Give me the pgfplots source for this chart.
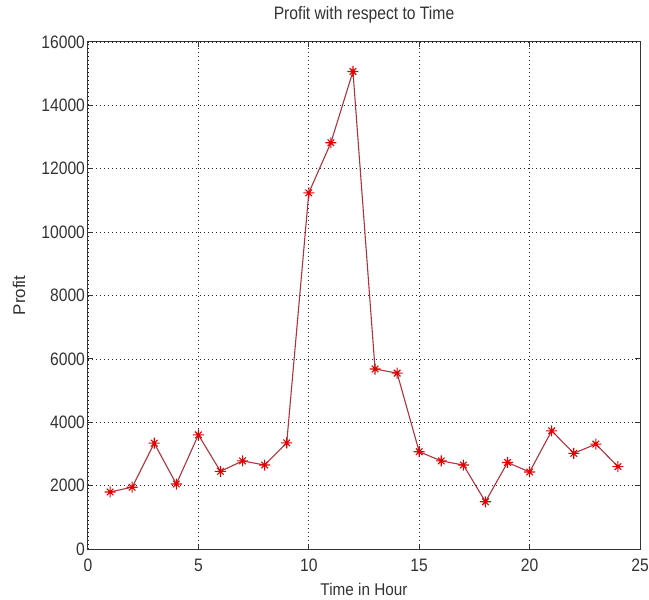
\documentclass[border=0pt]{standalone}
\usepackage{pgfplots}
\pgfplotsset{compat=1.18}
\usepackage{fontspec}
\setmainfont{Liberation Sans}
\definecolor{linered}{RGB}{175,50,60}
\pgfdeclareplotmark{mstar}{%
  \pgfpathmoveto{\pgfqpoint{0pt}{\pgfplotmarksize}}%
  \pgfpathlineto{\pgfqpoint{0pt}{-\pgfplotmarksize}}%
  \pgfpathmoveto{\pgfqpoint{\pgfplotmarksize}{0pt}}%
  \pgfpathlineto{\pgfqpoint{-\pgfplotmarksize}{0pt}}%
  \pgfpathmoveto{\pgfqpoint{.6\pgfplotmarksize}{.6\pgfplotmarksize}}%
  \pgfpathlineto{\pgfqpoint{-.6\pgfplotmarksize}{-.6\pgfplotmarksize}}%
  \pgfpathmoveto{\pgfqpoint{-.6\pgfplotmarksize}{.6\pgfplotmarksize}}%
  \pgfpathlineto{\pgfqpoint{.6\pgfplotmarksize}{-.6\pgfplotmarksize}}%
  \pgfusepathqstroke}
\begin{document}
\begin{tikzpicture}[x=1bp,y=1bp]
\useasboundingbox (-88bp,-51bp) rectangle (561bp,549bp);
\begin{axis}[
  at={(0,0)}, anchor=origin,
  scale only axis, width=552bp, height=507bp,
  xmin=0, xmax=25, ymin=0, ymax=16000,
  xtick={0,5,10,15,20,25},
  ytick={0,2000,4000,6000,8000,10000,12000,14000,16000},
  scaled y ticks=false,
  /pgf/number format/assume math mode=true,
  /pgf/number format/1000 sep={},
  tick align=inside, tick pos=both,
  major tick length=5bp,
  grid=major,
  grid style={black!85, dash pattern=on 1.2bp off 2.8bp, line width=0.7bp},
  axis line style={black!80, line width=1bp},
  tick style={black!80, line width=1bp},
  ticklabel style={font=\fontsize{18bp}{20bp}\selectfont, xscale=0.87, text=black!80},
  xticklabel style={anchor=center, yshift=-16bp},
  title={Profit with respect to Time},
  title style={font=\fontsize{18bp}{20bp}\selectfont, xscale=0.87, text=black!80,
    at={([yshift=21bp]axis description cs:0.5,1)}, anchor=center},
  xlabel={Time in Hour},
  xlabel style={font=\fontsize{17bp}{19bp}\selectfont, xscale=0.9, text=black!80,
    at={([yshift=-40bp]axis description cs:0.5,0)}, anchor=center},
  ylabel={Profit},
  ylabel style={font=\fontsize{17bp}{20bp}\selectfont, text=black!80,
    at={([xshift=-69bp]axis description cs:0,0.5)}, anchor=center},
]
\addplot[color=linered, line width=1.1pt, mark=mstar, mark size=5.5bp,
  mark options={red!90!black, line width=1.1pt}] coordinates {
(1,1800) (2,1950) (3,3340) (4,2050) (5,3600) (6,2450) (7,2780) (8,2650)
(9,3350) (10,11240) (11,12820) (12,15070) (13,5680) (14,5550) (15,3070)
(16,2780) (17,2650) (18,1490) (19,2730) (20,2430) (21,3730) (22,3020)
(23,3310) (24,2600)
};
\end{axis}
\end{tikzpicture}
\end{document}
